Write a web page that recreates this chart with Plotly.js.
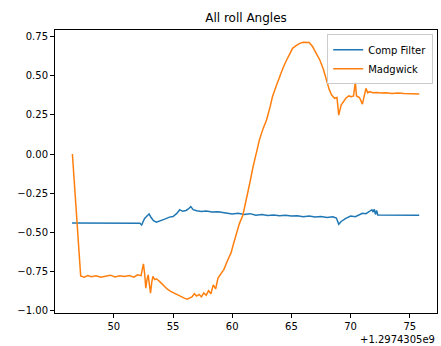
<!DOCTYPE html>
<html>
<head>
<meta charset="utf-8">
<script src="https://cdn.plot.ly/plotly-3.0.1.min.js"></script>
<style>html,body{margin:0;padding:0;background:#fff;}#chart{width:441px;height:346px;}</style>
</head>
<body>
<div id="chart"></div>
<script>
// x values are seconds relative to the axis offset (+1.2974305e9)
const xOffsetLabel = "+1.2974305e9";

const compX = [
  46.47, 47.5, 48.5, 49.5, 50.5, 51.5, 52.2, 52.35, 52.45, 52.6,
  52.8, 52.98, 53.15, 53.35, 53.6, 53.9, 54.3, 54.7, 55.0, 55.3,
  55.57, 55.8, 56.1, 56.3, 56.5, 56.7, 57.0, 57.4, 57.8, 58.3,
  58.8, 59.2, 59.6, 60.0, 60.5, 61.0, 61.5, 62.0, 62.5, 63.0,
  63.5, 64.0, 64.5, 65.0, 65.5, 66.0, 66.5, 67.0, 67.5, 68.0,
  68.5, 68.8, 69.0, 69.2, 69.6, 70.0, 70.4, 70.8, 71.0, 71.3,
  71.6, 71.8, 71.9, 72.0, 72.1, 72.2, 72.3, 73.0, 74.0, 75.0, 75.8
];
const compY = [
  -0.440, -0.441, -0.440, -0.441, -0.440, -0.441, -0.441, -0.452, -0.430, -0.410,
  -0.395, -0.382, -0.405, -0.425, -0.435, -0.428, -0.415, -0.402, -0.398, -0.380,
  -0.355, -0.365, -0.360, -0.350, -0.335, -0.355, -0.362, -0.366, -0.363, -0.370,
  -0.368, -0.372, -0.375, -0.382, -0.378, -0.385, -0.380, -0.390, -0.385, -0.392,
  -0.388, -0.394, -0.390, -0.395, -0.393, -0.400, -0.395, -0.402, -0.398, -0.405,
  -0.400, -0.408, -0.448, -0.430, -0.410, -0.395, -0.400, -0.385, -0.378, -0.380,
  -0.365, -0.355, -0.370, -0.352, -0.385, -0.360, -0.389, -0.389, -0.390, -0.390, -0.391
];

const madX = [
  46.5, 47.2, 47.5, 47.8, 48.1, 48.5, 48.9, 49.3, 49.7, 50.1,
  50.5, 50.9, 51.3, 51.7, 52.0, 52.3, 52.5, 52.6, 52.7, 52.8,
  52.9, 53.0, 53.1, 53.2, 53.3, 53.45, 53.6, 53.9, 54.2, 54.5,
  54.8, 55.1, 55.4, 55.7, 56.0, 56.2, 56.4, 56.6, 56.8, 57.0,
  57.2, 57.4, 57.6, 57.8, 58.0, 58.2, 58.4, 58.6, 58.8, 59.0,
  59.3, 59.6, 59.9, 60.1, 60.35, 60.6, 60.9, 61.2, 61.5, 61.75,
  62.0, 62.3, 62.6, 62.9, 63.2, 63.4, 63.7, 64.0, 64.3, 64.6,
  64.9, 65.1, 65.4, 65.7, 66.0, 66.25, 66.5, 66.8, 67.1, 67.4,
  67.7, 67.95, 68.2, 68.4, 68.65, 68.85, 69.0, 69.2, 69.4, 69.6,
  69.85, 70.05, 70.25, 70.4, 70.5, 70.75, 71.0, 71.15, 71.3, 71.45,
  71.6, 71.9, 72.2, 72.6, 73.0, 73.5, 74.0, 74.5, 75.0, 75.4, 75.8
];
const madY = [
  0.000, -0.777, -0.785, -0.775, -0.782, -0.776, -0.785, -0.778, -0.772, -0.783,
  -0.776, -0.781, -0.774, -0.785, -0.770, -0.775, -0.700, -0.760, -0.855, -0.800,
  -0.770, -0.830, -0.887, -0.820, -0.780, -0.800, -0.795, -0.815, -0.840, -0.860,
  -0.875, -0.887, -0.900, -0.912, -0.920, -0.925, -0.918, -0.910, -0.890, -0.905,
  -0.895, -0.910, -0.885, -0.900, -0.870, -0.890, -0.834, -0.860, -0.790, -0.765,
  -0.735, -0.680, -0.630, -0.575, -0.505, -0.445, -0.390, -0.293, -0.180, -0.085,
  0.000, 0.090, 0.160, 0.217, 0.300, 0.365, 0.430, 0.492, 0.550, 0.599,
  0.650, 0.673, 0.690, 0.705, 0.712, 0.709, 0.710, 0.683, 0.645, 0.599,
  0.540, 0.471, 0.410, 0.376, 0.355, 0.360, 0.248, 0.312, 0.330, 0.355,
  0.370, 0.365, 0.370, 0.460, 0.370, 0.360, 0.318, 0.360, 0.418, 0.390,
  0.397, 0.390, 0.392, 0.388, 0.390, 0.386, 0.388, 0.385, 0.386, 0.384, 0.383
];

const xTicks = [50, 55, 60, 65, 70, 75];
const yTicks = [-1.00, -0.75, -0.50, -0.25, 0.00, 0.25, 0.50, 0.75];

const font = 'DejaVu Sans, sans-serif';

const traces = [
  {x: compX, y: compY, type: 'scatter', mode: 'lines', name: 'Comp Filter',
   line: {color: '#1f77b4', width: 1.5}},
  {x: madX, y: madY, type: 'scatter', mode: 'lines', name: 'Madgwick',
   line: {color: '#ff7f0e', width: 1.5}}
];

const axisCommon = {
  showgrid: false, zeroline: false, showline: true, mirror: true,
  linecolor: '#000', linewidth: 1, ticks: 'outside', ticklen: 4,
  tickcolor: '#000', tickfont: {family: font, size: 10, color: '#000'}
};

const layout = {
  width: 441, height: 346,
  margin: {l: 55, r: 4, t: 30, b: 33},
  paper_bgcolor: '#fff', plot_bgcolor: '#fff',
  font: {family: font, color: '#000'},
  title: {text: 'All roll Angles', font: {family: font, size: 12, color: '#000'},
          x: 0.5, xref: 'paper', y: 1 - 18/346, yref: 'container', yanchor: 'middle'},
  xaxis: Object.assign({}, axisCommon, {range: [45.03, 77.3], tickvals: xTicks,
          ticktext: xTicks.map(String)}),
  yaxis: Object.assign({}, axisCommon, {range: [-1.013, 0.79], tickvals: yTicks,
          tickformat: '.2f'}),
  showlegend: true,
  legend: {x: 0.99, xanchor: 'right', y: 0.985, yanchor: 'top',
           bgcolor: 'rgba(255,255,255,0.8)', bordercolor: '#cccccc', borderwidth: 1,
           font: {family: font, size: 10, color: '#000'}, tracegroupgap: 0},
  annotations: [{text: xOffsetLabel, xref: 'paper', yref: 'paper', x: 1, y: -0.092,
                 xanchor: 'right', yanchor: 'middle', showarrow: false,
                 font: {family: font, size: 10, color: '#000'}}]
};

Plotly.newPlot('chart', traces, layout, {displayModeBar: false, staticPlot: true});
</script>
</body>
</html>
